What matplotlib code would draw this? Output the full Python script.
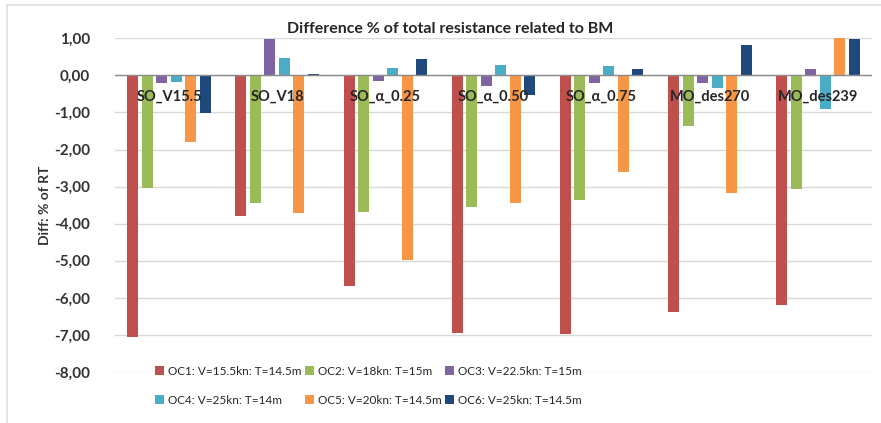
import matplotlib.pyplot as plt
import numpy as np
from matplotlib.patches import Patch
from matplotlib.lines import Line2D

plt.rcParams['font.family'] = ['Lato', 'DejaVu Sans']

cases = ['SO_V15.5', 'SO_V18', 'SO_α_0.25', 'SO_α_0.50', 'SO_α_0.75', 'MO_des270', 'MO_des239']
series = ['OC1: V=15.5kn: T=14.5m', 'OC2: V=18kn: T=15m', 'OC3: V=22.5kn: T=15m',
          'OC4: V=25kn: T=14m', 'OC5: V=20kn: T=14.5m', 'OC6: V=25kn: T=14.5m']
oc1 = [-7.05, -3.79, -5.69, -6.94, -6.98, -6.39, -6.18]
oc2 = [-3.05, -3.43, -3.69, -3.54, -3.36, -1.36, -3.06]
oc3 = [-0.21, 0.98, -0.16, -0.30, -0.20, -0.20, 0.16]
oc4 = [-0.19, 0.48, 0.20, 0.27, 0.24, -0.33, -0.90]
oc5 = [-1.81, -3.72, -4.97, -3.45, -2.60, -3.18, 1.00]
oc6 = [-1.02, 0.04, 0.43, -0.54, 0.16, 0.81, 0.98]
colors = ['#C0504D', '#9BBB59', '#8064A2', '#4BACC6', '#F79646', '#1F497D']
yticks = np.arange(-8, 2, 1)

fig = plt.figure(figsize=(8.81, 4.23), dpi=100)
ax = fig.add_axes([0.1305, 0.1206, 0.8593, 0.7889])

x = np.arange(len(cases))
step = 0.134
for i, vals in enumerate([oc1, oc2, oc3, oc4, oc5, oc6]):
    ax.bar(x + (i - 2.5) * step, vals, width=0.102, color=colors[i], zorder=2)

ax.set_xlim(-0.5, len(cases) - 0.5)
ax.set_ylim(-8, 1)
ax.set_yticks(yticks)
ax.set_yticklabels([('%.2f' % v).replace('.', ',') for v in yticks])
ax.grid(axis='y', color='#D9D9D9', lw=1, zorder=0)
ax.axhline(0, color='#8C8C8C', lw=1, zorder=3)
ax.set_xticks([])
ax.tick_params(axis='y', length=0, pad=18, labelsize=11, labelcolor='#333333')
for t in ax.get_yticklabels():
    t.set_fontweight('bold')
for s in ax.spines.values():
    s.set_visible(False)

# case names sit just under the zero line, over the bars
for xi, name in zip(x, cases):
    ax.text(xi, -0.58, name, ha='center', va='center', fontsize=10.5,
            fontweight='bold', color='#262626', zorder=4)

ax.set_ylabel('Diff: % of RT', fontsize=10, fontweight='bold', color='#333333')
ax.yaxis.set_label_coords(-0.084, 0.5)

fig.text(0.511, 0.931, 'Difference % of total resistance related to BM', ha='center',
         va='center', fontsize=11.5, fontweight='bold', color='#262626')

# legend goes row by row, matplotlib fills columns first
order = [0, 3, 1, 4, 2, 5]
handles = [Patch(facecolor=colors[k], edgecolor='none') for k in order]
labels = [series[k] for k in order]
leg = fig.legend(handles, labels, ncol=3, loc='upper left', bbox_to_anchor=(0.176, 0.135),
                 frameon=True, fontsize=8.5, handlelength=0.75, handleheight=0.75,
                 handletextpad=0.35, columnspacing=0.3, labelspacing=1.5, borderpad=0.0,
                 borderaxespad=0)
leg.get_frame().set_facecolor('white')
leg.get_frame().set_edgecolor('white')
for t in leg.get_texts():
    t.set_color('#262626')

# chart area border (top and left edges)
fig.add_artist(Line2D([0.008, 1.0], [0.988, 0.988], color='#E0E0E0', lw=1.2))
fig.add_artist(Line2D([0.008, 0.008], [0.0, 0.988], color='#E0E0E0', lw=1.2))

fig.savefig('out.png', dpi=100)
